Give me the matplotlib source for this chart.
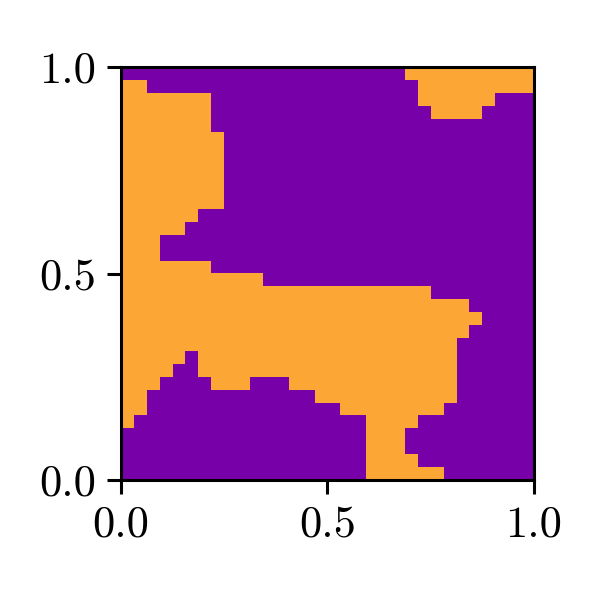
import matplotlib
matplotlib.use("Agg")
import matplotlib.pyplot as plt
from matplotlib.colors import ListedColormap
import numpy as np

plt.rcParams['font.family'] = 'serif'
plt.rcParams['font.serif'] = ['cmr10']
plt.rcParams['axes.formatter.use_mathtext'] = True

# 32x32 binary field, top row first ('#' = orange class, '.' = purple class)
grid_rows = [
    "......................##########",
    "##.....................#########",
    "#######................######...",
    "#######.................####....",
    "#######.........................",
    "########........................",
    "########........................",
    "########........................",
    "########........................",
    "########........................",
    "########........................",
    "######..........................",
    "#####...........................",
    "###.............................",
    "###.............................",
    "#######.........................",
    "###########.....................",
    "########################........",
    "###########################.....",
    "############################....",
    "###########################.....",
    "##########################......",
    "#####.####################......",
    "####..####################......",
    "###....###...#############......",
    "##.............###########......",
    "##...............########.......",
    "#..................####.........",
    "...................###..........",
    "...................###..........",
    "...................####.........",
    "...................######.......",
]
class_colors = ['#7800a8', '#fca636']
ticks = [0.0, 0.5, 1.0]
tick_labels = ['0.0', '0.5', '1.0']

Z = np.array([[1 if ch == '#' else 0 for ch in row] for row in grid_rows])

fig = plt.figure(figsize=(3, 3), dpi=200)
ax = fig.add_axes([0.2017, 0.2, 0.688, 0.688])
ax.imshow(Z, cmap=ListedColormap(class_colors), extent=[0, 1, 0, 1],
          origin='upper', interpolation='nearest', vmin=0, vmax=1, aspect='auto')
ax.set_xticks(ticks)
ax.set_xticklabels(tick_labels)
ax.set_yticks(ticks)
ax.set_yticklabels(tick_labels)
ax.tick_params(labelsize=16, length=5, width=1.1, pad=4)
for s in ax.spines.values():
    s.set_linewidth(1.1)

fig.savefig('out.png', dpi=200)
